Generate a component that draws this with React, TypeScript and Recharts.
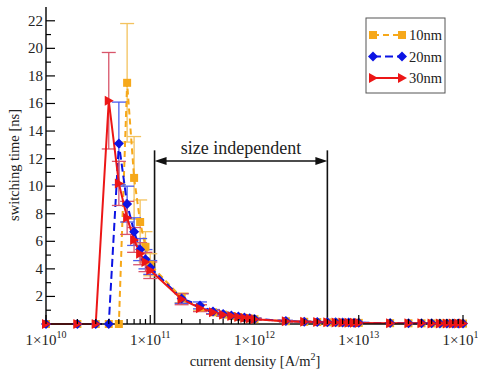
import { ComposedChart, Line, XAxis, YAxis, ErrorBar, ReferenceLine } from "recharts";

const FONT = "'Liberation Serif', 'DejaVu Serif', serif";

// current density [A/m^2]
const currents = [
  1e10, 2e10, 3e10, 4e10, 5e10, 6e10, 7e10, 8e10, 9e10,
  1e11, 2e11, 3e11, 4e11, 5e11, 6e11, 7e11, 8e11, 9e11,
  1e12, 2e12, 3e12, 4e12, 5e12, 6e12, 7e12, 8e12, 9e12,
  1e13, 2e13, 3e13, 4e13, 5e13, 6e13, 7e13, 8e13, 9e13, 1e14,
];

// switching time [ns]
const t10 = [
  0, 0, 0, 0, 0, 17.5, 10.6, 7.4, 5.6,
  4.3, 1.9, 1.2, 0.85, 0.68, 0.58, 0.5, 0.44, 0.4,
  0.35, 0.2, 0.16, 0.14, 0.12, 0.11, 0.1, 0.09, 0.09,
  0.08, 0.06, 0.05, 0.05, 0.04, 0.04, 0.04, 0.03, 0.03, 0.03,
];
const t20 = [
  0, 0, 0, 0, 13.1, 8.7, 6.7, 5.4, 4.7,
  4.1, 1.85, 1.35, 0.9, 0.72, 0.62, 0.55, 0.48, 0.42,
  0.37, 0.22, 0.17, 0.15, 0.13, 0.12, 0.11, 0.1, 0.09,
  0.09, 0.07, 0.06, 0.05, 0.05, 0.04, 0.04, 0.04, 0.03, 0.03,
];
const t30 = [
  0, 0, 0, 16.2, 10.2, 7.7, 6.1, 5.1, 4.5,
  3.9, 1.8, 1.15, 0.85, 0.68, 0.58, 0.5, 0.44, 0.39,
  0.35, 0.2, 0.16, 0.14, 0.12, 0.11, 0.1, 0.09, 0.09,
  0.08, 0.06, 0.05, 0.05, 0.04, 0.04, 0.04, 0.03, 0.03, 0.03,
];

// error bars [ns]
const e10 = [
  0, 0, 0, 0, 0, 4.3, 3.0, 1.6, 1.1,
  0.8, 0.35, 0.2, 0.15, 0.12, 0.1, 0.1, 0.08, 0.08,
  0.07, 0.05, 0.04, 0.03, 0.03, 0.03, 0.02, 0.02, 0.02,
  0.02, 0, 0, 0, 0, 0, 0, 0, 0, 0,
];
const e20 = [
  0, 0, 0, 0, 3.0, 1.3, 1.0, 0.8, 0.7,
  0.5, 0.35, 0.25, 0.15, 0.12, 0.1, 0.1, 0.08, 0.08,
  0.07, 0.05, 0.04, 0.03, 0.03, 0.03, 0.02, 0.02, 0.02,
  0.02, 0, 0, 0, 0, 0, 0, 0, 0, 0,
];
const e30 = [
  0, 0, 0, 3.5, 1.6, 1.2, 0.9, 0.8, 0.7,
  0.6, 0.4, 0.25, 0.15, 0.12, 0.1, 0.1, 0.08, 0.08,
  0.07, 0.05, 0.04, 0.03, 0.03, 0.03, 0.02, 0.02, 0.02,
  0.02, 0, 0, 0, 0, 0, 0, 0, 0, 0,
];

const xMajor = [1e10, 1e11, 1e12, 1e13, 1e14];
const xExp = [10, 11, 12, 13, 14];
const yMajor = [2, 4, 6, 8, 10, 12, 14, 16, 18, 20, 22];

const xTicks: number[] = [];
xMajor.forEach((m, i) => {
  xTicks.push(m);
  if (i < xMajor.length - 1) for (let k = 2; k <= 9; k++) xTicks.push(m * k);
});
const yTicks: number[] = [];
for (let v = 1; v <= 22; v++) yTicks.push(v);

const ORANGE = "#f6a81a";
const BLUE = "#0c14e4";
const RED = "#ec1616";

const toData = (t: number[], e: number[]) =>
  currents.map((x, i) => ({ x, t: t[i], err: e[i] }));

const d10 = toData(t10, e10);
const d20 = toData(t20, e20);
const d30 = toData(t30, e30);

const square = (color: string) => (p: any) =>
  p.cx == null ? <g key={p.index} /> : (
    <rect key={p.index} x={p.cx - 4} y={p.cy - 4} width={8} height={8} fill={color} />
  );
const diamond = (color: string) => (p: any) =>
  p.cx == null ? <g key={p.index} /> : (
    <polygon key={p.index}
      points={`${p.cx},${p.cy - 5} ${p.cx + 5},${p.cy} ${p.cx},${p.cy + 5} ${p.cx - 5},${p.cy}`}
      fill={color} />
  );
const triangle = (color: string) => (p: any) =>
  p.cx == null ? <g key={p.index} /> : (
    <polygon key={p.index}
      points={`${p.cx - 4},${p.cy - 5} ${p.cx + 5},${p.cy} ${p.cx - 4},${p.cy + 5}`}
      fill={color} />
  );

const BottomTick = ({ x, y, payload }: any) => {
  const i = xMajor.indexOf(payload.value);
  const major = i >= 0;
  return (
    <g>
      <line x1={x} x2={x} y1={y} y2={y - (major ? 9 : 5)} stroke="#000" strokeWidth={1.2} />
      {major && (
        <text x={x} y={y + 21} textAnchor="middle" fontFamily={FONT} fontSize={15} fill="#222">
          1×10<tspan dy={-7} fontSize={10}>{xExp[i]}</tspan>
        </text>
      )}
    </g>
  );
};

const LeftTick = ({ x, y, payload }: any) => {
  const major = yMajor.includes(payload.value);
  return (
    <g>
      <line x1={x} x2={x + (major ? 9 : 5)} y1={y} y2={y} stroke="#000" strokeWidth={1.2} />
      {major && (
        <text x={x - 3} y={y + 5} textAnchor="end" fontFamily={FONT} fontSize={15} fill="#222">
          {payload.value}
        </text>
      )}
    </g>
  );
};

const RightTick = ({ x, y, payload }: any) => {
  const major = yMajor.includes(payload.value);
  return <line x1={x} x2={x - (major ? 9 : 5)} y1={y} y2={y} stroke="#000" strokeWidth={1.2} />;
};

const ArrowShape = (p: any) => {
  const { x1, y1, x2, y2 } = p;
  return (
    <g>
      <line x1={x1 + 6} y1={y1} x2={x2 - 6} y2={y2} stroke="#111" strokeWidth={1.6} />
      <polygon points={`${x1},${y1} ${x1 + 12},${y1 - 4} ${x1 + 12},${y1 + 4}`} fill="#111" />
      <polygon points={`${x2},${y2} ${x2 - 12},${y2 - 4} ${x2 - 12},${y2 + 4}`} fill="#111" />
    </g>
  );
};

const legendRows = [
  { name: "10nm", color: ORANGE, dash: "6 4", mark: square(ORANGE) },
  { name: "20nm", color: BLUE, dash: "8 4", mark: diamond(BLUE) },
  { name: "30nm", color: RED, dash: undefined, mark: triangle(RED) },
];

export default function App() {
  return (
    <div style={{ position: "absolute", left: 0, top: 0, background: "#fff" }}>
      <ComposedChart width={478} height={372} margin={{ top: 7, right: 15, left: 0, bottom: 0 }}>
        <XAxis dataKey="x" type="number" scale="log" domain={[1e10, 1e14]} ticks={xTicks}
          interval={0} tickSize={0} tickMargin={0} tick={BottomTick} height={48}
          axisLine={{ stroke: "#111", strokeWidth: 1.5 }} allowDuplicatedCategory={false} />
        <YAxis type="number" domain={[0, 23]} ticks={yTicks} interval={0} tickSize={0}
          tickMargin={0} tick={LeftTick} width={46} axisLine={{ stroke: "#111", strokeWidth: 1.5 }} />
        <YAxis yAxisId="right" orientation="right" type="number" domain={[0, 23]} ticks={yTicks}
          interval={0} tickSize={0} tickMargin={0} tick={RightTick} width={0}
          axisLine={{ stroke: "#111", strokeWidth: 1.5 }} />
        <XAxis xAxisId="top" orientation="top" type="number" scale="log" domain={[1e10, 1e14]}
          ticks={[]} tick={false} tickLine={false} height={0}
          axisLine={{ stroke: "#111", strokeWidth: 1.5 }} />

        <ReferenceLine segment={[{ x: 1.1e11, y: 0 }, { x: 1.1e11, y: 12.6 }]} stroke="#111" strokeWidth={1.6} />
        <ReferenceLine segment={[{ x: 5e12, y: 0 }, { x: 5e12, y: 12.6 }]} stroke="#111" strokeWidth={1.6} />
        <ReferenceLine segment={[{ x: 1.1e11, y: 11.83 }, { x: 5e12, y: 11.83 }]} shape={ArrowShape}
          label={{ value: "size independent", position: "top", offset: 7, fill: "#222", fontSize: 18, fontFamily: FONT }} />

        <Line data={d10} dataKey="t" stroke={ORANGE} strokeWidth={2} strokeDasharray="6 4"
          dot={square(ORANGE)} isAnimationActive={false}>
          <ErrorBar dataKey="err" width={7} stroke="#f3c25e" strokeWidth={1.3} isAnimationActive={false} />
        </Line>
        <Line data={d20} dataKey="t" stroke={BLUE} strokeWidth={2} strokeDasharray="8 4"
          dot={diamond(BLUE)} isAnimationActive={false}>
          <ErrorBar dataKey="err" width={7} stroke="#4a5cf0" strokeWidth={1.3} isAnimationActive={false} />
        </Line>
        <Line data={d30} dataKey="t" stroke={RED} strokeWidth={2}
          dot={triangle(RED)} isAnimationActive={false}>
          <ErrorBar dataKey="err" width={7} stroke="#d8556a" strokeWidth={1.3} isAnimationActive={false} />
        </Line>

        <g>
          <rect x={366} y={18} width={79} height={75} fill="#fff" stroke="#555" strokeWidth={1} />
          {legendRows.map((r, i) => {
            const cy = 35 + i * 21.5;
            return (
              <g key={r.name}>
                <line x1={373} x2={402} y1={cy} y2={cy} stroke={r.color} strokeWidth={2} strokeDasharray={r.dash} />
                {r.mark({ cx: 373, cy, index: "a" + i })}
                {r.mark({ cx: 402, cy, index: "b" + i })}
                <text x={409} y={cy + 5} fontFamily={FONT} fontSize={14.5} fill="#222">{r.name}</text>
              </g>
            );
          })}
        </g>

        <text x={255} y={366} textAnchor="middle" fontFamily={FONT} fontSize={14.5} fill="#222">
          current density [A/m<tspan dy={-6} fontSize={10}>2</tspan><tspan dy={6}>]</tspan>
        </text>
        <text x={0} y={0} transform="translate(19,165) rotate(-90)" textAnchor="middle"
          fontFamily={FONT} fontSize={14.5} fill="#222">
          switching time [ns]
        </text>
      </ComposedChart>
    </div>
  );
}
